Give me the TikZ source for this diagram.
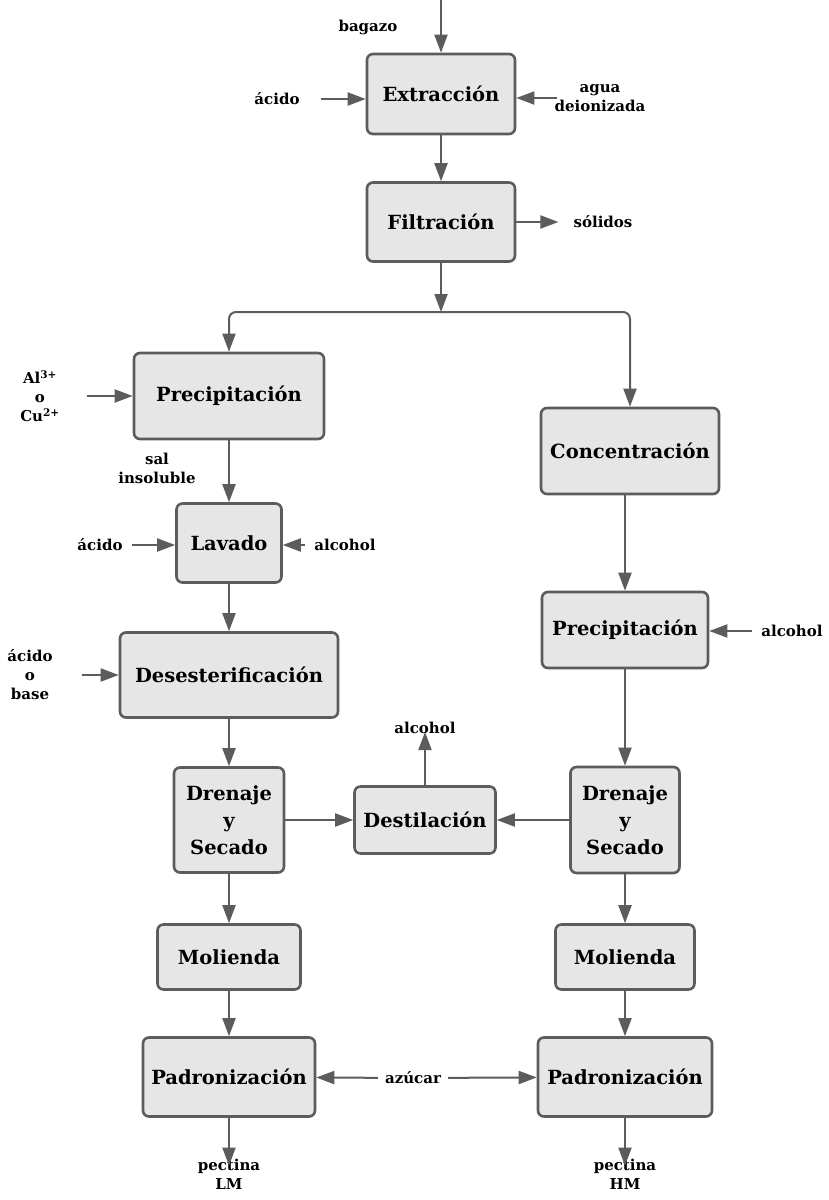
\documentclass[tikz,border=0pt]{standalone}
\usepackage{fontspec}
\setmainfont{DejaVu Serif}
\usetikzlibrary{arrows.meta}

\definecolor{boxfill}{HTML}{E6E6E6}
\definecolor{boxline}{HTML}{5C5C5C}

\tikzset{
  proc/.style={draw=boxline, fill=boxfill, line width=2.6pt, rounded corners=6pt,
    align=center, inner sep=0pt, font=\fontsize{19.5}{27}\selectfont\bfseries},
  lbl/.style={align=center, inner sep=1pt, font=\fontsize{15}{19}\selectfont\bfseries},
  flow/.style={draw=boxline, line width=2pt, -{Triangle[length=18pt,width=13pt]}},
}

\begin{document}
\begin{tikzpicture}[x=1pt, y=-1pt]

\def\xm{441}; % main line
\def\xl{229}; % left column
\def\xr{625}; % right column

\useasboundingbox[fill=white] (0,0) rectangle (829,1200);

% top
\node[proc, minimum width=148pt, minimum height=80pt] (extr) at (\xm,94) {Extracción};
\node[proc, minimum width=148pt, minimum height=79pt] (filt) at (\xm,222) {Filtración};

% left column
\node[proc, minimum width=190pt, minimum height=86pt] (prec1) at (\xl,396) {Precipitación};
\node[proc, minimum width=105pt, minimum height=79pt] (lav) at (\xl,543) {Lavado};
\node[proc, minimum width=218pt, minimum height=85pt] (deses) at (\xl,675) {Desesterificación};
\node[proc, minimum width=110pt, minimum height=105pt] (dren1) at (\xl,820) {Drenaje\\y\\Secado};
\node[proc, minimum width=143pt, minimum height=65pt] (mol1) at (\xl,957) {Molienda};
\node[proc, minimum width=172pt, minimum height=79pt] (pad1) at (\xl,1077) {Padronización};

% right column
\node[proc, minimum width=178pt, minimum height=86pt] (conc) at (630,451) {Concentración};
\node[proc, minimum width=166pt, minimum height=76pt] (prec2) at (\xr,630) {Precipitación};
\node[proc, minimum width=109pt, minimum height=106pt] (dren2) at (\xr,820) {Drenaje\\y\\Secado};
\node[proc, minimum width=139pt, minimum height=65pt] (mol2) at (\xr,957) {Molienda};
\node[proc, minimum width=174pt, minimum height=79pt] (pad2) at (\xr,1077) {Padronización};

% middle
\node[proc, minimum width=141pt, minimum height=67pt] (dest) at (425,820) {Destilación};

% streams
\coordinate (feed) at (\xm,0);
\coordinate (split) at (\xm,312);
\node[lbl] (bagazo) at (368,27) {bagazo};
\node[lbl] (acid1) at (277,99) {ácido};
\node[lbl] (agua) at (600,98) {agua\\deionizada};
\node[lbl] (solid) at (603,222) {sólidos};
\node[lbl] (ion) at (40,396) {Al\textsuperscript{3+}\\o\\Cu\textsuperscript{2+}};
\node[lbl] (sal) at (157,468) {sal\\insoluble};
\node[lbl] (acid2) at (100,545) {ácido};
\node[lbl] (alc1) at (345,545) {alcohol};
\node[lbl] (acbase) at (30,675) {ácido\\o\\base};
\node[lbl] (alc2) at (425,728) {alcohol};
\node[lbl] (alc3) at (792,631) {alcohol};
\node[lbl] (azucar) at (413,1078) {azúcar};
\node[lbl] (pecLM) at (\xl,1174) {pectina\\LM};
\node[lbl] (pecHM) at (\xr,1174) {pectina\\HM};

% main flow
\draw[flow] (feed) -- (extr);
\draw[flow] (extr) -- (filt);
\draw[flow] (filt) -- (split);
\draw[flow, rounded corners=7pt] (split) -| (prec1);
\draw[flow, rounded corners=7pt] (split) -| (conc);

\draw[flow] (prec1) -- (lav);
\draw[flow] (lav) -- (deses);
\draw[flow] (deses) -- (dren1);
\draw[flow] (dren1) -- (mol1);
\draw[flow] (mol1) -- (pad1);
\draw[flow] (pad1) -- ([yshift=-8pt]pecLM.north);

\draw[flow] (conc.south -| prec2) -- (prec2);
\draw[flow] (prec2) -- (dren2);
\draw[flow] (dren2) -- (mol2);
\draw[flow] (mol2) -- (pad2);
\draw[flow] (pad2) -- ([yshift=-8pt]pecHM.north);

\draw[flow] (dren1) -- (dest);
\draw[flow] (dren2) -- (dest);
\draw[flow] (dest) -- ([yshift=3pt]alc2.south);

% side inputs and outputs
\draw[flow, shorten <=20pt] (acid1) -- (acid1 -| extr.west);
\draw[flow, shorten <=-4pt] (agua) -- (agua -| extr.east);
\draw[flow] (filt) -- ([xshift=-14pt]solid.west);
\draw[flow, shorten <=26pt] (ion) -- (ion -| prec1.west);
\draw[flow, shorten <=8pt] (acid2) -- (acid2 -| lav.west);
\draw[flow, shorten <=8pt] (alc1) -- (alc1 -| lav.east);
\draw[flow, shorten <=28pt] (acbase) -- (acbase -| deses.west);
\draw[flow, shorten <=8pt] (alc3) -- (alc3 -| prec2.east);
\draw[flow, shorten <=6pt] (azucar) -- (pad1);
\draw[flow, shorten <=6pt] (azucar) -- (pad2);

\end{tikzpicture}
\end{document}
